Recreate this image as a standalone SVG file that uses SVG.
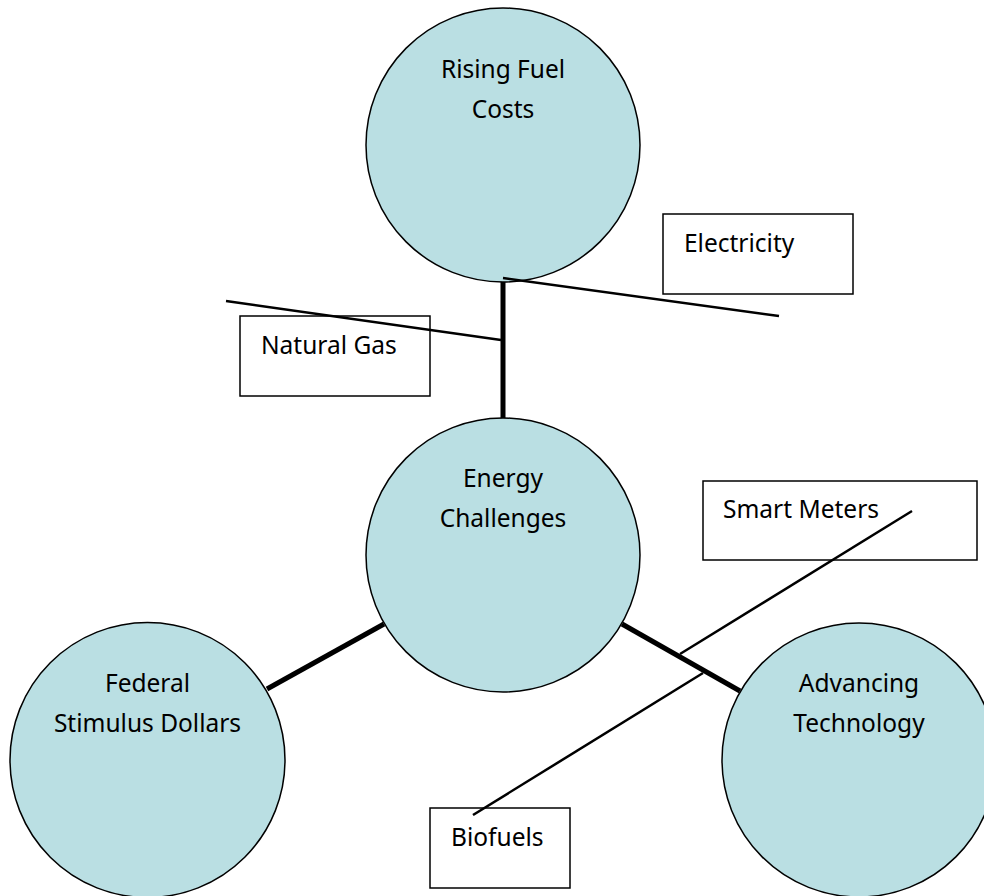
<svg xmlns="http://www.w3.org/2000/svg" width="984" height="896" viewBox="0 0 984 896">
<style>
.c{fill:#badfe3;stroke:#000;stroke-width:1.5}
.b{fill:#fff;stroke:#000;stroke-width:1.5}
.t{font-family:"Noto Sans","Open Sans",sans-serif;font-size:24.5px;fill:#000}
.m{text-anchor:middle}
.thin{stroke:#000;stroke-width:2.5;fill:none}
.thick{stroke:#000;stroke-width:5;fill:none}
</style>
<rect width="984" height="896" fill="#fff"/>
<g id="connectors">
<line class="thick" x1="503" y1="279" x2="503" y2="419"/>
<line class="thick" x1="267" y1="689" x2="384" y2="624"/>
<line class="thick" x1="622" y1="624" x2="740" y2="691"/>
</g>
<g id="rising"><circle class="c" cx="503" cy="145" r="137"/><text class="t m" x="503" y="78">Rising Fuel</text><text class="t m" x="503" y="118">Costs</text></g>
<g id="energy"><circle class="c" cx="503" cy="555" r="137"/><text class="t m" x="503" y="487">Energy</text><text class="t m" x="503" y="527">Challenges</text></g>
<g id="federal"><circle class="c" cx="147.5" cy="760" r="137.5"/><text class="t m" x="147.5" y="692">Federal</text><text class="t m" x="147.5" y="732">Stimulus Dollars</text></g>
<g id="advancing"><circle class="c" cx="859" cy="760" r="137"/><text class="t m" x="859" y="692">Advancing</text><text class="t m" x="859" y="732">Technology</text></g>
<g id="electricity"><rect class="b" x="663" y="214" width="190" height="80"/><text class="t" x="684" y="252">Electricity</text></g>
<g id="naturalgas"><rect class="b" x="240" y="316" width="190" height="80"/><text class="t" x="261" y="354">Natural Gas</text></g>
<g id="smartmeters"><rect class="b" x="703" y="481" width="274" height="79"/><text class="t" x="723" y="518">Smart Meters</text></g>
<g id="biofuels"><rect class="b" x="430" y="808" width="140" height="80"/><text class="t" x="451" y="846">Biofuels</text></g>
<g id="branches">
<line class="thin" x1="226" y1="301" x2="501" y2="340"/>
<line class="thin" x1="503" y1="278" x2="779" y2="316"/>
<line class="thin" x1="912" y1="511" x2="680" y2="654"/>
<line class="thin" x1="473" y1="815" x2="703" y2="673"/>
</g>
</svg>
